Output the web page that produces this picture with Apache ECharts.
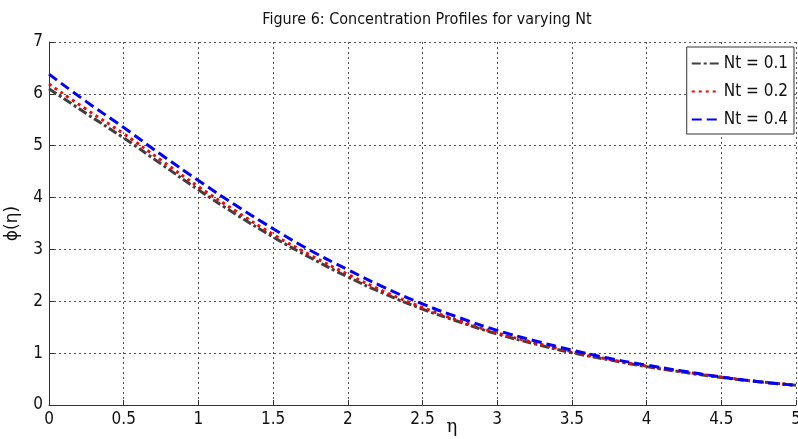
<!DOCTYPE html>
<html>
<head>
<meta charset="utf-8">
<script src="https://cdn.jsdelivr.net/npm/echarts@6/dist/echarts.min.js"></script>
<style>html,body{margin:0;padding:0;background:#fff}#c{width:798px;height:439px}</style>
</head>
<body>
<div id="c"></div>
<script>
var eta = [0,0.25,0.5,0.75,1,1.25,1.5,1.75,2,2.25,2.5,2.75,3,3.25,3.5,3.75,4,4.25,4.5,4.75,5];
var nt01 = [6.10,5.62,5.15,4.65,4.15,3.68,3.24,2.84,2.47,2.14,1.85,1.60,1.37,1.18,1.01,0.87,0.74,0.63,0.53,0.45,0.38];
var nt02 = [6.19,5.70,5.23,4.72,4.21,3.74,3.29,2.89,2.52,2.18,1.88,1.62,1.39,1.20,1.03,0.88,0.75,0.64,0.54,0.45,0.38];
var nt04 = [6.38,5.85,5.35,4.83,4.33,3.85,3.40,2.98,2.61,2.26,1.95,1.68,1.44,1.24,1.06,0.90,0.77,0.65,0.54,0.45,0.38];
var xTicks = [0,0.5,1,1.5,2,2.5,3,3.5,4,4.5,5];
var yTicks = [0,1,2,3,4,5,6,7];
var names = ['Nt = 0.1','Nt = 0.2','Nt = 0.4'];

var FONT = "'DejaVu Sans Condensed','Liberation Sans Narrow',sans-serif";
function pairs(ys){ return eta.map(function(x,i){return [x, ys[i]];}); }

var chart = echarts.init(document.getElementById('c'));
chart.setOption({
  animation: false,
  backgroundColor: '#fff',
  textStyle: {fontFamily: FONT},
  title: {
    text: 'Figure 6: Concentration Profiles for varying Nt',
    left: 422, top: 7, textAlign: 'center',
    textStyle: {fontFamily: FONT, fontSize: 16, fontWeight: 'normal', color: '#111'}
  },
  legend: {
    orient: 'vertical', right: 4, top: 47,
    backgroundColor: '#fff',
    borderColor: '#333', borderWidth: 1,
    padding: [8, 6, 6, 4],
    itemGap: 11, itemWidth: 27, itemHeight: 14,
    itemStyle: {opacity: 0},
    textStyle: {fontFamily: FONT, fontSize: 17, color: '#111'},
    data: names
  },
  grid: {left: 49, right: 2, top: 42, bottom: 34, containLabel: false, outerBoundsMode: 'none'},
  xAxis: {
    type: 'value', min: 0, max: 5, interval: 0.5,
    name: 'η', nameLocation: 'middle', nameGap: 13, nameMoveOverlap: false,
    nameTextStyle: {fontFamily: 'DejaVu Serif', fontSize: 18, color: '#111', align: 'left', padding: [0, 0, 0, 24]},
    axisLine: {show: true, onZero: false, lineStyle: {color: '#333', width: 1}},
    axisTick: {show: true, inside: true, length: 5, lineStyle: {color: '#333'}},
    axisLabel: {fontFamily: FONT, fontSize: 17, color: '#111', margin: 6,
      formatter: function(v){ return String(v); }},
    splitLine: {show: true, lineStyle: {color: '#555', type: [2, 3], width: 1}}
  },
  yAxis: {
    type: 'value', min: 0, max: 7, interval: 1,
    name: 'ϕ(η)', nameLocation: 'middle', nameGap: 28, nameRotate: 90, nameMoveOverlap: false,
    nameTextStyle: {fontFamily: 'DejaVu Sans', fontSize: 17, color: '#111'},
    axisLine: {show: true, lineStyle: {color: '#333', width: 1}},
    axisTick: {show: true, inside: true, length: 5, lineStyle: {color: '#333'}},
    axisLabel: {fontFamily: FONT, fontSize: 17, color: '#111', margin: 6},
    splitLine: {show: true, lineStyle: {color: '#555', type: [2, 3], width: 1}}
  },
  series: [
    {name: names[0], type: 'line', data: pairs(nt01), smooth: true, symbol: 'none', z: 3,
     itemStyle: {color: '#3f3f3f'},
     lineStyle: {color: '#3f3f3f', width: 3, type: [9, 3, 3, 3]}},
    {name: names[1], type: 'line', data: pairs(nt02), smooth: true, symbol: 'none', z: 4,
     itemStyle: {color: '#ff0000'},
     lineStyle: {color: '#ff0000', width: 3, type: [3, 4]}},
    {name: names[2], type: 'line', data: pairs(nt04), smooth: true, symbol: 'none', z: 5,
     itemStyle: {color: '#0000ff'},
     lineStyle: {color: '#0000ff', width: 3, type: [10, 5]}}
  ]
});
</script>
</body>
</html>
